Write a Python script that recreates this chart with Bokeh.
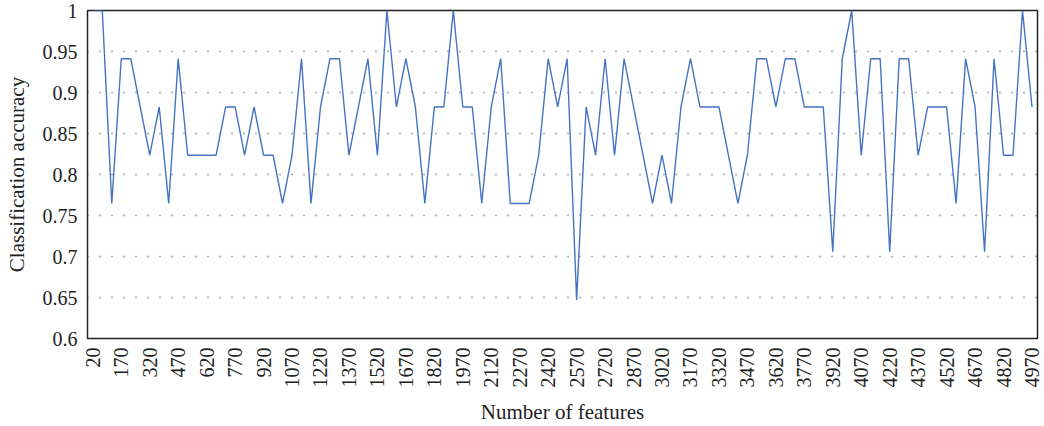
import math
from bokeh.plotting import figure
from bokeh.models import Range1d, FixedTicker, CustomJSTickFormatter, ColumnDataSource
from bokeh.embed import file_html
from bokeh.resources import INLINE

# Number of features (x) and classification accuracy (y)
n_features = list(range(20, 4971, 50))
accuracy_k = [
    17, 17, 13, 16, 16, 15, 14, 15, 13, 16,
    14, 14, 14, 14, 15, 15, 14, 15, 14, 14,
    13, 14, 16, 13, 15, 16, 16, 14, 15, 16,
    14, 17, 15, 16, 15, 13, 15, 15, 17, 15,
    15, 13, 15, 16, 13, 13, 13, 14, 16, 15,
    16, 11, 15, 14, 16, 14, 16, 15, 14, 13,
    14, 13, 15, 16, 15, 15, 15, 14, 13, 14,
    16, 16, 15, 16, 16, 15, 15, 15, 12, 16,
    17, 14, 16, 16, 12, 16, 16, 14, 15, 15,
    15, 13, 16, 15, 12, 16, 14, 14, 17, 15,
]
accuracy = [k / 17 for k in accuracy_k]

x_ticks = list(range(20, 4971, 150))
y_ticks = [0.6, 0.65, 0.7, 0.75, 0.8, 0.85, 0.9, 0.95, 1.0]

FONT = "Liberation Serif"

p = figure(width=1044, height=426, output_backend="svg", toolbar_location=None,
           x_range=Range1d(-8, 4999), y_range=Range1d(0.6, 1.0),
           min_border_left=87, min_border_right=7, min_border_top=10, min_border_bottom=86)

src = ColumnDataSource(dict(x=n_features, y=accuracy))
p.line("x", "y", source=src, line_color="#4472C4", line_width=1.4)

p.outline_line_color = "#222222"
p.outline_line_width = 1.5
p.outline_line_alpha = 1.0

p.xgrid.grid_line_color = None
p.ygrid.grid_line_color = "#555555"
p.ygrid.grid_line_dash = "1 11"
p.ygrid.grid_line_width = 1.5
p.ygrid.ticker = FixedTicker(ticks=y_ticks[1:-1])

xa = p.xaxis[0]
xa.ticker = FixedTicker(ticks=x_ticks)
xa.major_label_orientation = math.pi / 2
xa.axis_label = "Number of features"
ya = p.yaxis[0]
ya.ticker = FixedTicker(ticks=y_ticks)
ya.formatter = CustomJSTickFormatter(code="return String(Math.round(tick*100)/100);")
ya.axis_label = "Classification accuracy"

for ax in (xa, ya):
    ax.axis_line_color = None
    ax.major_tick_line_color = None
    ax.minor_tick_line_color = None
    ax.major_tick_out = 0
    ax.major_tick_in = 0
    ax.minor_tick_out = 0
    ax.major_label_text_font = FONT
    ax.major_label_text_font_size = "20px"
    ax.major_label_text_color = "#222222"
    ax.axis_label_text_font = FONT
    ax.axis_label_text_font_size = "21px"
    ax.axis_label_text_font_style = "normal"
    ax.axis_label_text_color = "#222222"

xa.major_label_standoff = 9
xa.axis_label_standoff = 9
ya.major_label_standoff = 10
ya.axis_label_standoff = 11

open("out.html", "w").write(file_html(p, INLINE))
